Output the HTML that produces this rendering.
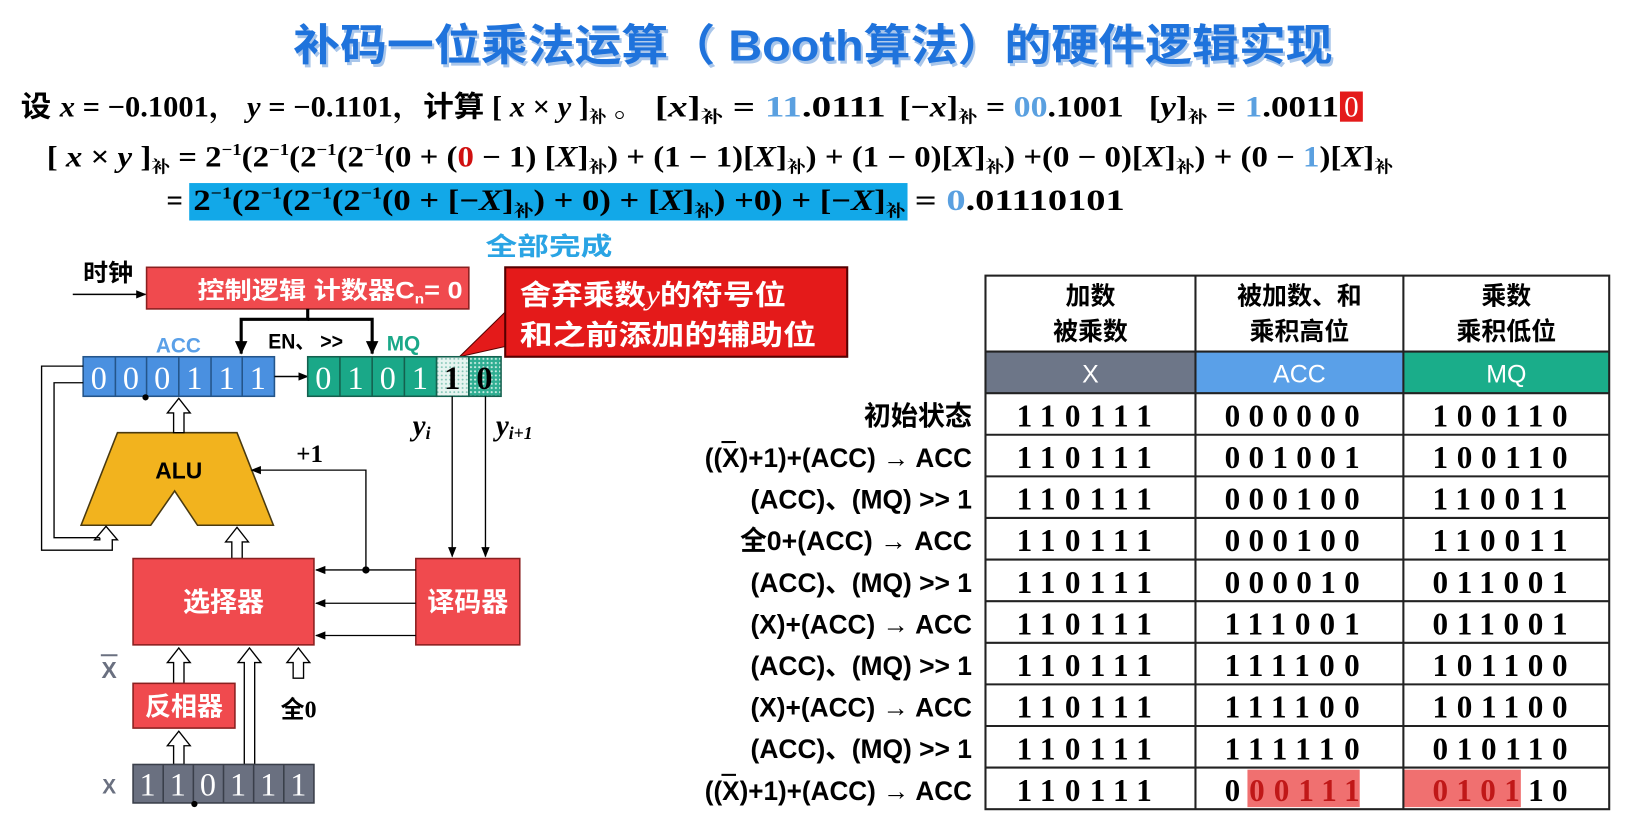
<!DOCTYPE html>
<html><head><meta charset="utf-8"><style>
html,body{margin:0;padding:0;background:#fff;overflow:hidden}
svg{display:block}
.cn{font-family:"Liberation Sans","Noto Sans CJK SC",sans-serif;font-weight:bold}
.m{font-family:"Liberation Serif","Noto Serif CJK SC","Noto Sans CJK SC",serif}
.dg{font-family:"Liberation Serif",serif;font-weight:bold;font-size:30px}
.wd{fill:#fff;font-family:"Liberation Serif",serif;font-size:31px;text-anchor:middle}
.lb{font-family:"Liberation Sans","Noto Sans CJK SC",sans-serif;font-weight:bold;font-size:26px;text-anchor:end}
</style></head><body>
<svg width="1630" height="830" viewBox="0 0 1568 798" preserveAspectRatio="none" xmlns="http://www.w3.org/2000/svg">
<defs>
<marker id="a" markerWidth="10" markerHeight="10" refX="9" refY="5" orient="auto" markerUnits="userSpaceOnUse"><path d="M0,1 L10,5 L0,9 Z" fill="#000"/></marker>
<marker id="ab" markerWidth="14" markerHeight="14" refX="12" refY="7" orient="auto" markerUnits="userSpaceOnUse"><path d="M0,1 L13,7 L0,13 Z" fill="#000"/></marker>
<pattern id="dot" width="4" height="4" patternUnits="userSpaceOnUse"><rect width="4" height="4" fill="#e6f4f0"/><circle cx="1" cy="1" r="0.9" fill="#7fc4b4"/></pattern>
<pattern id="dot2" width="4" height="4" patternUnits="userSpaceOnUse"><rect width="4" height="4" fill="#2fae92"/><circle cx="1" cy="1" r="1" fill="#cdeee5"/></pattern>
</defs>

<!-- title -->
<text x="782" y="58" text-anchor="middle" class="cn" font-size="42" fill="#a9c6ea" textLength="1000" lengthAdjust="spacingAndGlyphs" transform="translate(2,3)">补码一位乘法运算（ Booth算法）的硬件逻辑实现</text>
<text x="782" y="58" text-anchor="middle" class="cn" font-size="42" fill="#1f73dc" textLength="1000" lengthAdjust="spacingAndGlyphs">补码一位乘法运算（ Booth算法）的硬件逻辑实现</text>

<!-- line 1 -->
<g class="m" font-size="28" font-weight="bold">
<text x="20" y="112" textLength="600" lengthAdjust="spacingAndGlyphs"><tspan class="cn">设 </tspan><tspan font-style="italic">x</tspan> = −0.1001， <tspan font-style="italic">y</tspan> = −0.1101，<tspan class="cn">计算</tspan> [ <tspan font-style="italic">x</tspan> × <tspan font-style="italic">y</tspan> ]<tspan font-size="16" dy="6">补</tspan><tspan dy="-6"> 。</tspan></text>
<text x="630" y="112" textLength="222" lengthAdjust="spacingAndGlyphs">[<tspan font-style="italic">x</tspan>]<tspan font-size="16" dy="6">补</tspan><tspan dy="-6"> = </tspan><tspan fill="#5aa0e0">11</tspan>.0111</text>
<text x="865" y="112" textLength="216" lengthAdjust="spacingAndGlyphs">[−<tspan font-style="italic">x</tspan>]<tspan font-size="16" dy="6">补</tspan><tspan dy="-6"> = </tspan><tspan fill="#5aa0e0">00</tspan>.1001</text>
<text x="1105" y="112" textLength="183" lengthAdjust="spacingAndGlyphs">[<tspan font-style="italic">y</tspan>]<tspan font-size="16" dy="6">补</tspan><tspan dy="-6"> = </tspan><tspan fill="#5aa0e0">1</tspan>.0011</text>
<rect x="1289" y="88" width="22" height="29" fill="#e41a1a"/>
<text x="1300" y="112" text-anchor="middle" fill="#fff" font-weight="normal">0</text>

<!-- line 2 -->
<text x="45" y="160" textLength="1295" lengthAdjust="spacingAndGlyphs">[ <tspan font-style="italic">x</tspan> × <tspan font-style="italic">y</tspan> ]<tspan font-size="16" dy="6">补</tspan><tspan dy="-6"> = 2</tspan><tspan font-size="16" dy="-11">−1</tspan><tspan dy="11">(2</tspan><tspan font-size="16" dy="-11">−1</tspan><tspan dy="11">(2</tspan><tspan font-size="16" dy="-11">−1</tspan><tspan dy="11">(2</tspan><tspan font-size="16" dy="-11">−1</tspan><tspan dy="11">(0 + (</tspan><tspan fill="#d01010">0</tspan> − 1) [<tspan font-style="italic">X</tspan>]<tspan font-size="16" dy="6">补</tspan><tspan dy="-6">) + (1 − 1)[</tspan><tspan font-style="italic">X</tspan>]<tspan font-size="16" dy="6">补</tspan><tspan dy="-6">) + (1 − 0)[</tspan><tspan font-style="italic">X</tspan>]<tspan font-size="16" dy="6">补</tspan><tspan dy="-6">) +(0 − 0)[</tspan><tspan font-style="italic">X</tspan>]<tspan font-size="16" dy="6">补</tspan><tspan dy="-6">) + (0 − </tspan><tspan fill="#5aa0e0">1</tspan>)[<tspan font-style="italic">X</tspan>]<tspan font-size="16" dy="6">补</tspan></text>

<!-- line 3 -->
<rect x="182" y="176" width="691" height="36" fill="#12a8e8"/>
<text x="160" y="202">=</text>
<text x="186" y="202" textLength="685" lengthAdjust="spacingAndGlyphs">2<tspan font-size="16" dy="-11">−1</tspan><tspan dy="11">(2</tspan><tspan font-size="16" dy="-11">−1</tspan><tspan dy="11">(2</tspan><tspan font-size="16" dy="-11">−1</tspan><tspan dy="11">(2</tspan><tspan font-size="16" dy="-11">−1</tspan><tspan dy="11">(0 +  [−</tspan><tspan font-style="italic">X</tspan>]<tspan font-size="16" dy="6">补</tspan><tspan dy="-6">) + 0) + [</tspan><tspan font-style="italic">X</tspan>]<tspan font-size="16" dy="6">补</tspan><tspan dy="-6">) +0) + [−</tspan><tspan font-style="italic">X</tspan>]<tspan font-size="16" dy="6">补</tspan></text>
<text x="880" y="202" textLength="202" lengthAdjust="spacingAndGlyphs">= <tspan fill="#5aa0e0">0</tspan>.01110101</text>
</g>

<text x="467" y="245" class="cn" font-size="24" fill="#2aa4e4" textLength="122" lengthAdjust="spacingAndGlyphs">全部完成</text>

<!-- control -->
<text x="80" y="270" class="cn" font-size="23" textLength="48" lengthAdjust="spacingAndGlyphs">时钟</text>
<line x1="70" y1="283" x2="140" y2="283" stroke="#000" stroke-width="1.5" marker-end="url(#a)"/>
<rect x="141" y="257" width="310" height="40" fill="#f04a4e" stroke="#8a2020" stroke-width="1.5"/>
<text x="190" y="287" class="cn" font-size="23" fill="#fff" textLength="255" lengthAdjust="spacingAndGlyphs">控制逻辑  计数器C<tspan font-size="13" dy="5">n</tspan><tspan dy="-5">= 0</tspan></text>
<polyline points="296,297 296,307 232,307 232,340" fill="none" stroke="#000" stroke-width="3" marker-end="url(#ab)"/>
<polyline points="296,307 358,307 358,340" fill="none" stroke="#000" stroke-width="3" marker-end="url(#ab)"/>
<text x="258" y="335" class="cn" font-size="20" textLength="72" lengthAdjust="spacingAndGlyphs">EN、 &gt;&gt;</text>
<text x="150" y="339" class="cn" font-size="20" fill="#5aa0e8">ACC</text>
<text x="372" y="337" class="cn" font-size="20" fill="#1aa888">MQ</text>

<!-- callout -->
<polygon points="486,300 442,343 500,330" fill="#e41a1a" stroke="#500" stroke-width="1"/>
<rect x="486" y="257" width="329" height="86" fill="#e41a1a" stroke="#500" stroke-width="2"/>
<text x="500" y="293" class="cn" font-size="27" fill="#fff" textLength="256" lengthAdjust="spacingAndGlyphs">舍弃乘数<tspan font-family="Liberation Serif" font-style="italic" font-weight="normal">y</tspan>的符号位</text>
<text x="500" y="331" class="cn" font-size="27" fill="#fff" textLength="285" lengthAdjust="spacingAndGlyphs">和之前添加的辅助位</text>

<!-- ACC register -->
<g stroke="#24558a" stroke-width="1.5">
<rect x="80" y="343" width="184" height="38" fill="#4a90e0"/>
<line x1="111" y1="343" x2="111" y2="381"/><line x1="141" y1="343" x2="141" y2="381"/><line x1="172" y1="343" x2="172" y2="381"/><line x1="203" y1="343" x2="203" y2="381"/><line x1="233" y1="343" x2="233" y2="381"/>
</g>
<g class="wd"><text x="95" y="374">0</text><text x="126" y="374">0</text><text x="156" y="374">0</text><text x="187" y="374">1</text><text x="218" y="374">1</text><text x="248" y="374">1</text></g>
<circle cx="140" cy="382" r="3" fill="#000"/>
<line x1="264" y1="362" x2="296" y2="362" stroke="#000" stroke-width="1.5" marker-end="url(#a)"/>

<!-- MQ register -->
<g stroke="#14604e" stroke-width="1.5">
<rect x="296" y="343" width="124" height="38" fill="#1aa888"/>
<line x1="327" y1="343" x2="327" y2="381"/><line x1="358" y1="343" x2="358" y2="381"/><line x1="389" y1="343" x2="389" y2="381"/>
<rect x="420" y="343" width="31" height="38" fill="url(#dot)"/>
<rect x="451" y="343" width="31" height="38" fill="url(#dot2)"/>
</g>
<g class="wd"><text x="311" y="374">0</text><text x="342" y="374">1</text><text x="373" y="374">0</text><text x="404" y="374">1</text></g>
<text x="435" y="374" class="wd" style="fill:#000;font-weight:bold">1</text>
<text x="466" y="374" class="wd" style="fill:#000;font-weight:bold">0</text>
<text x="397" y="418" class="m" font-size="28" font-style="italic" font-weight="bold">y<tspan font-size="17" dy="4">i</tspan></text>
<text x="477" y="418" class="m" font-size="28" font-style="italic" font-weight="bold">y<tspan font-size="17" dy="4">i+1</tspan></text>
<line x1="435" y1="381" x2="435" y2="535" stroke="#000" stroke-width="1.3" marker-end="url(#a)"/>
<line x1="467" y1="381" x2="467" y2="535" stroke="#000" stroke-width="1.3" marker-end="url(#a)"/>

<!-- ALU -->
<polygon points="113,416 228,416 263,505 190,505 168,472 145,505 78,505" fill="#f2b31e" stroke="#4a3a10" stroke-width="1.5"/>
<text x="172" y="460" text-anchor="middle" class="cn" font-size="22">ALU</text>
<g fill="#fff" stroke="#000" stroke-width="1.3">
<path d="M167,416 L167,397 L161,397 L172,383 L183,397 L177,397 L177,416 Z"/>
<path d="M223,537 L223,521 L217,521 L228,507 L239,521 L233,521 L233,537 Z"/>
<path d="M167,657 L167,637 L161,637 L172,623 L183,637 L177,637 L177,657 Z"/>
<path d="M235,735 L235,637 L229,637 L240,623 L251,637 L245,637 L245,735 Z"/>
<path d="M282,652 L282,637 L276,637 L287,623 L298,637 L292,637 L292,652 Z"/>
<path d="M167,735 L167,717 L161,717 L172,703 L183,717 L177,717 L177,735 Z"/>
</g>
<polyline points="80,352 40,352 40,529 108,529 108,519 113,519 102,506 91,519 96,519 96,517" fill="none" stroke="#000" stroke-width="1.3"/>
<polyline points="80,368 52,368 52,517 96,517" fill="none" stroke="#000" stroke-width="1.3"/>

<text x="285" y="444" class="m" font-size="24" font-weight="bold">+1</text>
<polyline points="352,548 352,452 242,452" fill="none" stroke="#000" stroke-width="1.3" marker-end="url(#a)"/>
<circle cx="352" cy="548" r="3.5" fill="#000"/>

<rect x="128" y="537" width="174" height="83" fill="#f04a4e" stroke="#8a2020" stroke-width="1.5"/>
<text x="215" y="588" text-anchor="middle" class="cn" font-size="26" fill="#fff">选择器</text>
<rect x="400" y="537" width="100" height="83" fill="#f04a4e" stroke="#8a2020" stroke-width="1.5"/>
<text x="450" y="588" text-anchor="middle" class="cn" font-size="26" fill="#fff">译码器</text>
<line x1="400" y1="548" x2="304" y2="548" stroke="#000" stroke-width="1.3" marker-end="url(#a)"/>
<line x1="400" y1="580" x2="304" y2="580" stroke="#000" stroke-width="1.3" marker-end="url(#a)"/>
<line x1="400" y1="611" x2="304" y2="611" stroke="#000" stroke-width="1.3" marker-end="url(#a)"/>

<text x="105" y="652" text-anchor="middle" class="cn" font-size="22" fill="#6a7080">X</text>
<line x1="97" y1="630" x2="113" y2="630" stroke="#6a7080" stroke-width="2"/>
<text x="270" y="690" class="cn" font-size="23">全<tspan font-family="Liberation Serif">0</tspan></text>
<rect x="128" y="657" width="98" height="43" fill="#f04a4e" stroke="#8a2020" stroke-width="1.5"/>
<text x="177" y="688" text-anchor="middle" class="cn" font-size="25" fill="#fff">反相器</text>

<g stroke="#3a3f4a" stroke-width="1.5">
<rect x="128" y="735" width="174" height="37" fill="#6a7080"/>
<line x1="157" y1="735" x2="157" y2="772"/><line x1="186" y1="735" x2="186" y2="772"/><line x1="215" y1="735" x2="215" y2="772"/><line x1="244" y1="735" x2="244" y2="772"/><line x1="273" y1="735" x2="273" y2="772"/>
</g>
<g class="wd"><text x="142" y="765">1</text><text x="171" y="765">1</text><text x="200" y="765">0</text><text x="229" y="765">1</text><text x="258" y="765">1</text><text x="287" y="765">1</text></g>
<circle cx="187" cy="773" r="3" fill="#000"/>
<text x="105" y="763" text-anchor="middle" class="cn" font-size="20" fill="#6a7080">X</text>

<!-- table -->
<rect x="948" y="338" width="202" height="40" fill="#6d7688"/>
<rect x="1150" y="338" width="200" height="40" fill="#5aa0e8"/>
<rect x="1350" y="338" width="198" height="40" fill="#1aad8a"/>
<rect x="1200" y="740" width="108" height="36" fill="#f07070"/>
<rect x="1350" y="740" width="113" height="36" fill="#f07070"/>
<g stroke="#222" stroke-width="2" fill="none">
<rect x="948" y="265" width="600" height="513"/>
<line x1="1150" y1="265" x2="1150" y2="778"/><line x1="1350" y1="265" x2="1350" y2="778"/>
<line x1="948" y1="338" x2="1548" y2="338"/><line x1="948" y1="378" x2="1548" y2="378"/>
<line x1="948" y1="418" x2="1548" y2="418"/><line x1="948" y1="458" x2="1548" y2="458"/><line x1="948" y1="498" x2="1548" y2="498"/><line x1="948" y1="538" x2="1548" y2="538"/><line x1="948" y1="578" x2="1548" y2="578"/><line x1="948" y1="618" x2="1548" y2="618"/><line x1="948" y1="658" x2="1548" y2="658"/><line x1="948" y1="698" x2="1548" y2="698"/><line x1="948" y1="738" x2="1548" y2="738"/>
</g>
<g class="cn" font-size="24" text-anchor="middle">
<text x="1049" y="293">加数</text><text x="1049" y="327">被乘数</text>
<text x="1250" y="293">被加数、和</text><text x="1250" y="327">乘积高位</text>
<text x="1449" y="293">乘数</text><text x="1449" y="327">乘积低位</text>
<text x="1049" y="368" fill="#fff" font-weight="normal">X</text>
<text x="1250" y="368" fill="#fff" font-weight="normal">ACC</text>
<text x="1449" y="368" fill="#fff" font-weight="normal">MQ</text>
</g>
<g class="lb">
<text x="935" y="409">初始状态</text>
<text x="935" y="449" textLength="257" lengthAdjust="spacingAndGlyphs">((X)+1)+(ACC) → ACC</text>
<text x="935" y="489" textLength="213" lengthAdjust="spacingAndGlyphs">(ACC)、(MQ) &gt;&gt; 1</text>
<text x="935" y="529" textLength="223" lengthAdjust="spacingAndGlyphs">全0+(ACC) → ACC</text>
<text x="935" y="569" textLength="213" lengthAdjust="spacingAndGlyphs">(ACC)、(MQ) &gt;&gt; 1</text>
<text x="935" y="609" textLength="213" lengthAdjust="spacingAndGlyphs">(X)+(ACC) → ACC</text>
<text x="935" y="649" textLength="213" lengthAdjust="spacingAndGlyphs">(ACC)、(MQ) &gt;&gt; 1</text>
<text x="935" y="689" textLength="213" lengthAdjust="spacingAndGlyphs">(X)+(ACC) → ACC</text>
<text x="935" y="729" textLength="213" lengthAdjust="spacingAndGlyphs">(ACC)、(MQ) &gt;&gt; 1</text>
<text x="935" y="769" textLength="257" lengthAdjust="spacingAndGlyphs">((X)+1)+(ACC) → ACC</text>
</g>
<line x1="694" y1="425" x2="708" y2="425" stroke="#000" stroke-width="2"/>
<line x1="694" y1="745" x2="708" y2="745" stroke="#000" stroke-width="2"/>
<g class="dg">
<text x="978" y="410" textLength="130">110111</text><text x="1178" y="410" textLength="130">000000</text><text x="1378" y="410" textLength="130">100110</text>
<text x="978" y="450" textLength="130">110111</text><text x="1178" y="450" textLength="130">001001</text><text x="1378" y="450" textLength="130">100110</text>
<text x="978" y="490" textLength="130">110111</text><text x="1178" y="490" textLength="130">000100</text><text x="1378" y="490" textLength="130">110011</text>
<text x="978" y="530" textLength="130">110111</text><text x="1178" y="530" textLength="130">000100</text><text x="1378" y="530" textLength="130">110011</text>
<text x="978" y="570" textLength="130">110111</text><text x="1178" y="570" textLength="130">000010</text><text x="1378" y="570" textLength="130">011001</text>
<text x="978" y="610" textLength="130">110111</text><text x="1178" y="610" textLength="130">111001</text><text x="1378" y="610" textLength="130">011001</text>
<text x="978" y="650" textLength="130">110111</text><text x="1178" y="650" textLength="130">111100</text><text x="1378" y="650" textLength="130">101100</text>
<text x="978" y="690" textLength="130">110111</text><text x="1178" y="690" textLength="130">111100</text><text x="1378" y="690" textLength="130">101100</text>
<text x="978" y="730" textLength="130">110111</text><text x="1178" y="730" textLength="130">111110</text><text x="1378" y="730" textLength="130">010110</text>
<text x="978" y="770" textLength="130">110111</text><text x="1178" y="770" textLength="130">0<tspan fill="#c01818">00111</tspan></text><text x="1378" y="770" textLength="130"><tspan fill="#c01818">0101</tspan>10</text>
</g>
</svg>
</body></html>
